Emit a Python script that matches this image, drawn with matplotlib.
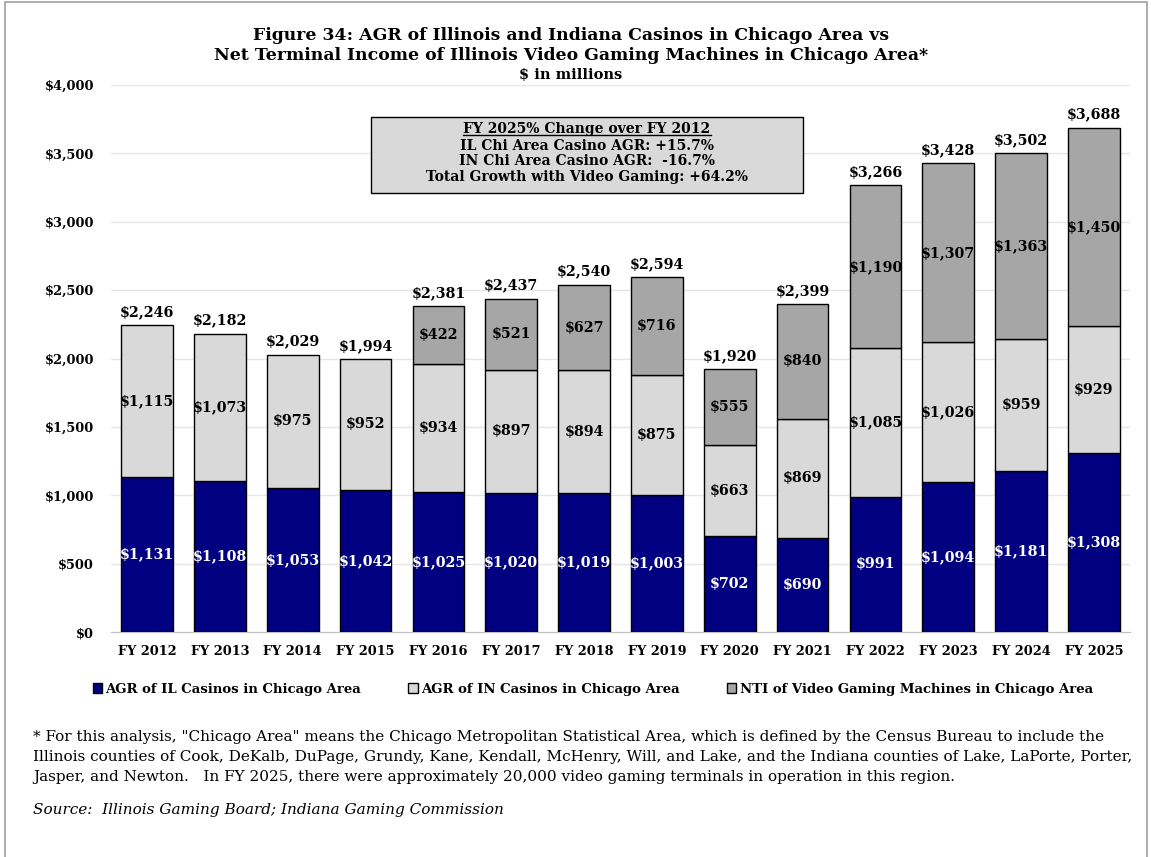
import matplotlib
matplotlib.use("Agg")

import numpy as np
import matplotlib.pyplot as plt
from matplotlib.patches import Rectangle
from matplotlib.lines import Line2D

plt.rcParams['font.family'] = ['DejaVu Serif']

# === Data ($ millions) ===
years = ["FY 2012", "FY 2013", "FY 2014", "FY 2015", "FY 2016", "FY 2017", "FY 2018",
         "FY 2019", "FY 2020", "FY 2021", "FY 2022", "FY 2023", "FY 2024", "FY 2025"]
il_agr = [1131, 1108, 1053, 1042, 1025, 1020, 1019, 1003, 702, 690, 991, 1094, 1181, 1308]
in_agr = [1115, 1073, 975, 952, 934, 897, 894, 875, 663, 869, 1085, 1026, 959, 929]
vg_nti = [0, 0, 0, 0, 422, 521, 627, 716, 555, 840, 1190, 1307, 1363, 1450]
totals = [2246, 2182, 2029, 1994, 2381, 2437, 2540, 2594, 1920, 2399, 3266, 3428, 3502, 3688]

box_lines = ["FY 2025% Change over FY 2012",
             "IL Chi Area Casino AGR: +15.7%",
             "IN Chi Area Casino AGR:  -16.7%",
             "Total Growth with Video Gaming: +64.2%"]

footnote_lines = [
    '* For this analysis, "Chicago Area" means the Chicago Metropolitan Statistical Area, '
    'which is defined by the Census Bureau to include the',
    'Illinois counties of Cook, DeKalb, DuPage, Grundy, Kane, Kendall, McHenry, Will, and Lake, '
    'and the Indiana counties of Lake, LaPorte, Porter,',
    'Jasper, and Newton.   In FY 2025, there were approximately 20,000 video gaming terminals '
    'in operation in this region.',
]
source = "Source:  Illinois Gaming Board; Indiana Gaming Commission"

NAVY = "#000080"
LIGHT = "#D9D9D9"
MID = "#A6A6A6"
W, H = 1151, 857


def money(v):
    return f"${v:,.0f}"


fig = plt.figure(figsize=(W / 100, H / 100), dpi=100)
ax = fig.add_axes([0.0961, 0.2625, 0.886, 0.6383])

x = np.arange(len(years))
w = 0.71
il = np.array(il_agr)
inn = np.array(in_agr)
vg = np.array(vg_nti)

ax.bar(x, il, w, color=NAVY, edgecolor="black", linewidth=1, zorder=3,
       label="AGR of IL Casinos in Chicago Area")
ax.bar(x, inn, w, bottom=il, color=LIGHT, edgecolor="black", linewidth=1, zorder=3,
       label="AGR of IN Casinos in Chicago Area")
vg_mask = vg > 0
ax.bar(x[vg_mask], vg[vg_mask], w, bottom=(il + inn)[vg_mask], color=MID,
       edgecolor="black", linewidth=1, zorder=3,
       label="NTI of Video Gaming Machines in Chicago Area")

# segment labels
lbl = dict(ha="center", va="center", fontsize=10.3, fontweight="bold", zorder=4)
for i in x:
    ax.text(i, il[i] / 2, money(il[i]), color="white", **lbl)
    ax.text(i, il[i] + inn[i] / 2, money(inn[i]), color="black", **lbl)
    if vg[i] > 0:
        ax.text(i, il[i] + inn[i] + vg[i] / 2, money(vg[i]), color="black", **lbl)
    ax.text(i, totals[i] + 45, money(totals[i]), ha="center", va="bottom",
            fontsize=10.3, fontweight="bold", color="black", zorder=4)

ax.set_xlim(-0.5, len(years) - 0.5)
ax.set_ylim(0, 4000)
ax.set_yticks(np.arange(0, 4001, 500))
ax.yaxis.set_major_formatter(plt.FuncFormatter(lambda v, p: money(v)))
ax.set_xticks(x)
ax.set_xticklabels(years)
for t in ax.get_xticklabels() + ax.get_yticklabels():
    t.set_fontweight("bold")
    t.set_fontsize(9.3)
ax.tick_params(axis="x", length=0, pad=9)
ax.tick_params(axis="y", length=0, pad=12)
ax.grid(axis="y", color="#E6E6E6", linewidth=1, zorder=0)
for s in ["top", "right", "left"]:
    ax.spines[s].set_visible(False)
ax.spines["bottom"].set_color("#BFBFBF")
ax.spines["bottom"].set_zorder(2)

# titles
fig.text(0.496, 1 - 35 / H, "Figure 34: AGR of Illinois and Indiana Casinos in Chicago Area vs",
         ha="center", va="center", fontsize=12.4, fontweight="bold")
fig.text(0.496, 1 - 55 / H, "Net Terminal Income of Illinois Video Gaming Machines in Chicago Area*",
         ha="center", va="center", fontsize=12.4, fontweight="bold")
fig.text(0.496, 1 - 75 / H, "$ in millions", ha="center", va="center", fontsize=10.5,
         fontweight="bold")

# summary box
bx0, bx1 = 371 / W, 803 / W
by0, by1 = 1 - 193 / H, 1 - 117 / H
fig.patches.append(Rectangle((bx0, by0), bx1 - bx0, by1 - by0, transform=fig.transFigure,
                             facecolor=LIGHT, edgecolor="black", linewidth=1, zorder=5))
line_y = [129, 146, 161, 177]
box_texts = []
for txt, py in zip(box_lines, line_y):
    box_texts.append(fig.text((bx0 + bx1) / 2, 1 - py / H, txt, ha="center", va="center",
                              fontsize=10, fontweight="bold", zorder=6))

# underline the heading of the box
fig.canvas.draw()
bb = box_texts[0].get_window_extent().transformed(fig.transFigure.inverted())
fig.lines.append(Line2D([bb.x0, bb.x1], [bb.y0 + 0.0015, bb.y0 + 0.0015],
                        transform=fig.transFigure, color="black", linewidth=1, zorder=6))

# legend
fig.legend(loc="center", bbox_to_anchor=(0.515, 1 - 689 / H), ncol=3, frameon=False,
           prop={"weight": "bold", "size": 9.5}, handlelength=0.7, handleheight=0.7,
           handletextpad=0.25, columnspacing=3.6)

# notes
for k, line in enumerate(footnote_lines):
    fig.text(33 / W, 1 - (737 + 20 * k) / H, line, ha="left", va="center", fontsize=11.0)
fig.text(33 / W, 1 - 810 / H, source, ha="left", va="center", fontsize=11.0, style="italic")

# outer frame
fig.patches.append(Rectangle((5 / W, -0.01), 1142 / W, 1 - 2 / H + 0.01,
                             transform=fig.transFigure, fill=False,
                             edgecolor="#A0A0A0", linewidth=1.2))

fig.savefig("out.png", dpi=100)
